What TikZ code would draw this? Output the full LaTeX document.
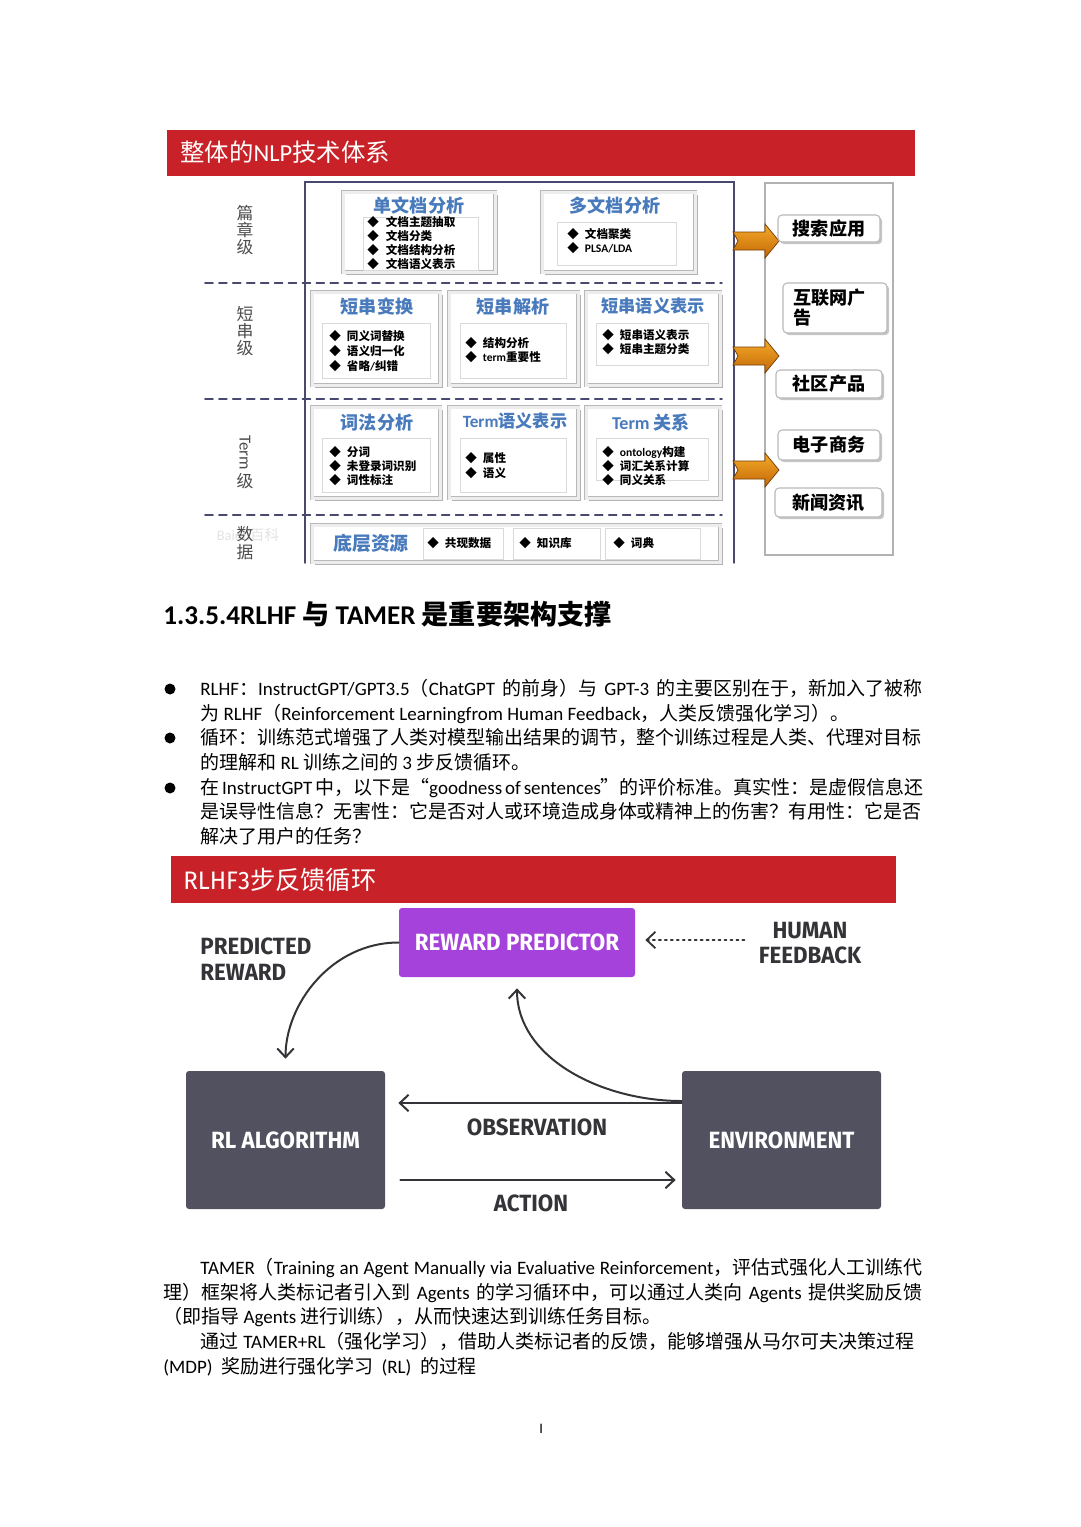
\documentclass[tikz,border=0pt]{standalone}
\usepackage{fontspec}
\setmainfont{Carlito}
\newfontfamily\cjk{Noto Sans CJK SC}
\newfontfamily\condf[FakeStretch=0.95]{Fira Sans}
\usepackage{tikz}
\usetikzlibrary{arrows.meta,positioning,shadows}
\usepackage{xcolor}
\definecolor{bannerred}{RGB}{200,34,40}
\definecolor{titleblue}{RGB}{72,122,188}
\definecolor{rppurple}{RGB}{166,66,220}
\definecolor{boxgray}{RGB}{82,81,96}
\definecolor{inkgray}{RGB}{52,52,56}
\definecolor{framenavy}{RGB}{72,72,112}
\definecolor{arrowlight}{RGB}{244,170,40}
\definecolor{arrowdark}{RGB}{196,104,8}
\newdimen\pagepx \pagepx=0.019444cm
\XeTeXlinebreaklocale "zh"
\XeTeXlinebreakskip=0pt plus 3pt minus 0.1pt
\XeTeXinterchartokenstate=1
\newXeTeXintercharclass\hanclass
\newcount\hanc
\newcommand\sethan[2]{\hanc=#1 \loop\XeTeXcharclass\hanc=\hanclass\relax\ifnum\hanc<#2 \advance\hanc by 1 \repeat}
\sethan{"3000}{"303F}
\sethan{"4E00}{"9FFF}
\sethan{"FF00}{"FFEF}
\sethan{"25A0}{"25FF}
\XeTeXcharclass"201C=\hanclass
\XeTeXcharclass"201D=\hanclass
\XeTeXinterchartoks 0 \hanclass = {\begingroup\cjk}
\XeTeXinterchartoks 4095 \hanclass = {\begingroup\cjk}
\XeTeXinterchartoks \hanclass 0 = {\endgroup}
\XeTeXinterchartoks \hanclass 4095 = {\endgroup}

\begin{document}
\begin{tikzpicture}[x=0.019444cm,y=-0.019444cm,>={Straight Barb[length=1.7mm,width=3.2mm]},line cap=round,
  font=\fontsize{10.5}{12}\selectfont,
  banner/.style={fill=bannerred,inner sep=0},
  bantxt/.style={anchor=west,text=white,inner sep=0,font=\fontsize{13.5}{13.5}\selectfont},
  lvl/.style={text=gray!60!black,inner sep=0,align=center,font=\fontsize{9.3}{9.6}\selectfont},
  sep/.style={framenavy,line width=0.9pt,dash pattern=on 4.4pt off 3.3pt},
  tbox/.style={draw=gray!55,double=gray!14,double distance=3\pagepx,fill=white,inner sep=0,
    drop shadow={shadow xshift=1.5pt,shadow yshift=-1.5pt,fill=gray!60,opacity=1}},
  ttl/.style={text=titleblue,inner sep=0,font=\fontsize{10}{10}\selectfont\bfseries},
  lbox/.style={draw=gray!30,fill=white,inner sep=0},
  itm/.style={anchor=west,inner sep=0,font=\fontsize{6.4}{6.4}\selectfont\bfseries},
  app/.style={draw=gray!55,fill=white,rounded corners=4\pagepx,line width=0.6pt,inner sep=0,
    drop shadow={shadow xshift=1.2pt,shadow yshift=-1.2pt,fill=gray!45,opacity=1},font=\fontsize{10}{10}\selectfont\bfseries},
  harrow/.style={top color=arrowlight,bottom color=arrowdark,draw=arrowdark!60!black,line width=0.4pt},
  txt/.style={anchor=base west,inner sep=0},
  rlbox/.style={fill=boxgray,rounded corners=3\pagepx,text=white,inner sep=0,font=\fontsize{13}{13}\selectfont\condf\bfseries},
  lbl/.style={text=inkgray,inner sep=0,font=\fontsize{13}{14.3}\selectfont\condf\bfseries},
  flow/.style={inkgray,line width=1.1pt}]
\fill[white] (0,0) rectangle (1080,1527);
\useasboundingbox (0,0) rectangle (1080,1527);

\node[banner,minimum width=748\pagepx,minimum height=46\pagepx] (ban1) at (541,153) {};
\node[bantxt] (ban1t) at (180,152) {整体的NLP技术体系};

\draw[framenavy,line width=0.8pt] (305,563) -- (305,182) -- (734,182) -- (734,563);
\draw[gray!60,line width=0.8pt] (765,183) rectangle (893,555);
\draw[sep] (205,283) -- (722,283);
\draw[sep] (205,399) -- (722,399);
\draw[sep] (205,515) -- (722,515);

\node[lvl] (lv1) at (245,230) {篇\\章\\级};
\node[lvl] (lv2) at (245,331) {短\\串\\级};
\node[lvl,rotate=-90] (lv3) at (245,453) {Term};
\node[lvl] (lv3b) at (245,481) {级};
\node[text=gray!22,inner sep=0,font=\fontsize{8}{8}\selectfont] (wm) at (248,535) {Baidu百科};
\node[lvl] (lv4) at (245,543) {数\\据};

\node[tbox,minimum width=152\pagepx,minimum height=80\pagepx] (d1) at (419,232) {};
\node[ttl] (d1t) at (419,206) {单文档分析};
\node[lbox,minimum width=115\pagepx,minimum height=53\pagepx] (d1l) at (420.5,243.5) {};
\node[itm] (d1a) at (367,222) {◆\hspace{7\pagepx}文档主题抽取};
\node[itm] (d1b) at (367,236) {◆\hspace{7\pagepx}文档分类};
\node[itm] (d1c) at (367,250) {◆\hspace{7\pagepx}文档结构分析};
\node[itm] (d1d) at (367,264) {◆\hspace{7\pagepx}文档语义表示};

\node[tbox,minimum width=153\pagepx,minimum height=80\pagepx] (d2) at (618.5,232) {};
\node[ttl] (d2t) at (615,206) {多文档分析};
\node[lbox,minimum width=119\pagepx,minimum height=43\pagepx] (d2l) at (616.5,243.5) {};
\node[itm] (d2a) at (567,234) {◆\hspace{6\pagepx}文档聚类};
\node[itm] (d2b) at (567,248) {◆\hspace{6\pagepx}PLSA/LDA};

\node[tbox,minimum width=128\pagepx,minimum height=93\pagepx] (s1) at (376,338.5) {};
\node[ttl] (s1t) at (377,307) {短串变换};
\node[lbox,minimum width=108\pagepx,minimum height=55\pagepx] (s1l) at (376,350.5) {};
\node[itm] (s1a) at (329,336) {◆\hspace{6\pagepx}同义词替换};
\node[itm] (s1b) at (329,351) {◆\hspace{6\pagepx}语义归一化};
\node[itm] (s1c) at (329,366) {◆\hspace{6\pagepx}省略/纠错};

\node[tbox,minimum width=129\pagepx,minimum height=93\pagepx] (s2) at (513.5,338.5) {};
\node[ttl] (s2t) at (513,307) {短串解析};
\node[lbox,minimum width=106\pagepx,minimum height=55\pagepx] (s2l) at (513,350.5) {};
\node[itm] (s2a) at (465,343) {◆\hspace{6\pagepx}结构分析};
\node[itm] (s2b) at (465,357) {◆\hspace{6\pagepx}term重要性};

\node[tbox,minimum width=134\pagepx,minimum height=93\pagepx] (s3) at (653,338.5) {};
\node[ttl,font=\fontsize{9.5}{9.5}\selectfont\bfseries] (s3t) at (653,306) {短串语义表示};
\node[lbox,minimum width=112\pagepx,minimum height=42\pagepx] (s3l) at (652,344) {};
\node[itm] (s3a) at (602,335) {◆\hspace{6\pagepx}短串语义表示};
\node[itm] (s3b) at (602,349) {◆\hspace{6\pagepx}短串主题分类};

\node[tbox,minimum width=128\pagepx,minimum height=91\pagepx] (t1) at (376,452.5) {};
\node[ttl] (t1t) at (377,423) {词法分析};
\node[lbox,minimum width=108\pagepx,minimum height=54\pagepx] (t1l) at (376,465) {};
\node[itm] (t1a) at (329,452) {◆\hspace{6\pagepx}分词};
\node[itm] (t1b) at (329,466) {◆\hspace{6\pagepx}未登录词识别};
\node[itm] (t1c) at (329,480) {◆\hspace{6\pagepx}词性标注};

\node[tbox,minimum width=129\pagepx,minimum height=91\pagepx] (t2) at (513.5,452.5) {};
\node[ttl,font=\fontsize{9.5}{9.5}\selectfont\bfseries] (t2t) at (515,421) {Term语义表示};
\node[lbox,minimum width=106\pagepx,minimum height=54\pagepx] (t2l) at (513,465) {};
\node[itm] (t2a) at (465,458) {◆\hspace{6\pagepx}属性};
\node[itm] (t2b) at (465,473) {◆\hspace{6\pagepx}语义};

\node[tbox,minimum width=134\pagepx,minimum height=91\pagepx] (t3) at (653,452.5) {};
\node[ttl] (t3t) at (651,423) {Term 关系};
\node[lbox,minimum width=112\pagepx,minimum height=42\pagepx] (t3l) at (652,459) {};
\node[itm] (t3a) at (602,452) {◆\hspace{6\pagepx}ontology构建};
\node[itm] (t3b) at (602,466) {◆\hspace{6\pagepx}词汇关系计算};
\node[itm] (t3c) at (602,480) {◆\hspace{6\pagepx}同义关系};

\node[tbox,minimum width=408\pagepx,minimum height=37\pagepx] (res) at (516,543.5) {};
\node[ttl,font=\fontsize{10.5}{10.5}\selectfont\bfseries] (rest) at (371,543) {底层资源};
\node[lbox,minimum width=80\pagepx,minimum height=31\pagepx] (res1) at (463,543.5) {};
\node[lbox,minimum width=87\pagepx,minimum height=31\pagepx] (res2) at (556.5,543.5) {};
\node[lbox,minimum width=95\pagepx,minimum height=31\pagepx] (res3) at (652.5,543.5) {};
\node[itm] (res1t) at (427,543) {◆\hspace{6\pagepx}共现数据};
\node[itm] (res2t) at (519,543) {◆\hspace{6\pagepx}知识库};
\node[itm] (res3t) at (613,543) {◆\hspace{6\pagepx}词典};

\shade[harrow] (733,232) -- (765,232) -- (765,224) -- (779,241) -- (765,258) -- (765,250) -- (733,250) -- (738,241) -- cycle;
\shade[harrow] (733,347) -- (765,347) -- (765,339) -- (779,356) -- (765,373) -- (765,365) -- (733,365) -- (738,356) -- cycle;
\shade[harrow] (733,461) -- (765,461) -- (765,453) -- (779,470) -- (765,487) -- (765,479) -- (733,479) -- (738,470) -- cycle;

\node[app,minimum width=102\pagepx,minimum height=27\pagepx] (ap1) at (829,228.5) {搜索应用};
\node[app,minimum width=104\pagepx,minimum height=50\pagepx,align=left,text width=84\pagepx,font=\fontsize{10}{11}\selectfont\bfseries] (ap2) at (835,308) {互联网广\\告};
\node[app,minimum width=106\pagepx,minimum height=28\pagepx] (ap3) at (829,384) {社区产品};
\node[app,minimum width=102\pagepx,minimum height=30\pagepx] (ap4) at (829,445) {电子商务};
\node[app,minimum width=107\pagepx,minimum height=29\pagepx] (ap5) at (828.5,502.5) {新闻资讯};

\node[txt,font=\fontsize{15}{15}\selectfont\bfseries] (hd) at (163,624) {1.3.5.4RLHF 与 TAMER 是重要架构支撑};

\fill (170,689) circle (5.5);
\fill (170,738) circle (5.5);
\fill (170,788) circle (5.5);
\node[txt] (b1a) at (200,695) {\hbox to 722\pagepx{RLHF：InstructGPT/GPT3.5（ChatGPT 的前身）与 GPT-3 的主要区别在于，新加入了被称}};
\node[txt] (b1b) at (200,720) {为 RLHF（Reinforcement Learningfrom Human Feedback，人类反馈强化学习）。};
\node[txt] (b2a) at (200,744) {\hbox to 722\pagepx{循环：训练范式增强了人类对模型输出结果的调节，整个训练过程是人类、代理对目标}};
\node[txt] (b2b) at (200,769) {的理解和 RL 训练之间的 3 步反馈循环。};
\node[txt] (b3a) at (200,794) {\hbox to 722\pagepx{在 InstructGPT 中，以下是“goodness of sentences”的评价标准。真实性：是虚假信息还}};
\node[txt] (b3b) at (200,818) {\hbox to 722\pagepx{是误导性信息？无害性：它是否对人或环境造成身体或精神上的伤害？有用性：它是否}};
\node[txt] (b3c) at (200,843) {解决了用户的任务？};

\node[banner,minimum width=725\pagepx,minimum height=47\pagepx] (ban2) at (533.5,879.5) {};
\node[bantxt,font=\fontsize{14}{14}\selectfont\condf] (ban2t) at (183,880) {RLHF3步反馈循环};

\node[rlbox,fill=rppurple,minimum width=236\pagepx,minimum height=69\pagepx] (rp) at (517,942.5) {REWARD PREDICTOR};
\node[rlbox,minimum width=199\pagepx,minimum height=138\pagepx] (rl) at (285.5,1140) {RL ALGORITHM};
\node[rlbox,minimum width=199\pagepx,minimum height=138\pagepx] (env) at (781.5,1140) {ENVIRONMENT};
\node[lbl,align=center] (hf) at (810,943) {HUMAN\\FEEDBACK};
\node[lbl,align=left,anchor=west] (pr) at (200,959) {PREDICTED\\REWARD};
\node[lbl] (obs) at (537,1127) {OBSERVATION};
\node[lbl] (act) at (531,1203) {ACTION};

\draw[flow,->,line width=1pt,dash pattern=on 1.1pt off 2.2pt,shorten <=14\pagepx,shorten >=10\pagepx] (hf.west|-0,940) -- (rp.east|-0,940);
\draw[flow,->,shorten >=12\pagepx] (rp.west) to[out=180,in=90] (rl.north);
\draw[flow,->,shorten >=11\pagepx] (env.west|-0,1101) to[out=180,in=-90] (rp.south);
\draw[flow,->,shorten >=13\pagepx] (env.west|-0,1103) -- (rl.east|-0,1103);
\draw[flow,->,shorten <=15\pagepx,shorten >=6\pagepx] (rl.east|-0,1180) -- (env.west|-0,1180);

\node[txt] (tm1) at (200,1274) {\hbox to 722\pagepx{TAMER（Training an Agent Manually via Evaluative Reinforcement，评估式强化人工训练代}};
\node[txt] (tm2) at (163,1299) {\hbox to 759\pagepx{理）框架将人类标记者引入到 Agents 的学习循环中，可以通过人类向 Agents 提供奖励反馈}};
\node[txt] (tm3) at (163,1323) {（即指导 Agents 进行训练），从而快速达到训练任务目标。};
\node[txt] (tm4) at (200,1348) {\hbox to 722\pagepx{通过\hspace{5\pagepx}TAMER+RL（强化学习），借助人类标记者的反馈，能够增强从马尔可夫决策过程}};
\node[txt] (tm5) at (163,1373) {(MDP)\ \ 奖励进行强化学习\ \ (RL)\ \ 的过程};
\node[txt,font=\fontsize{8}{8}\selectfont] (pg) at (539,1433) {I};
\end{tikzpicture}
\end{document}
